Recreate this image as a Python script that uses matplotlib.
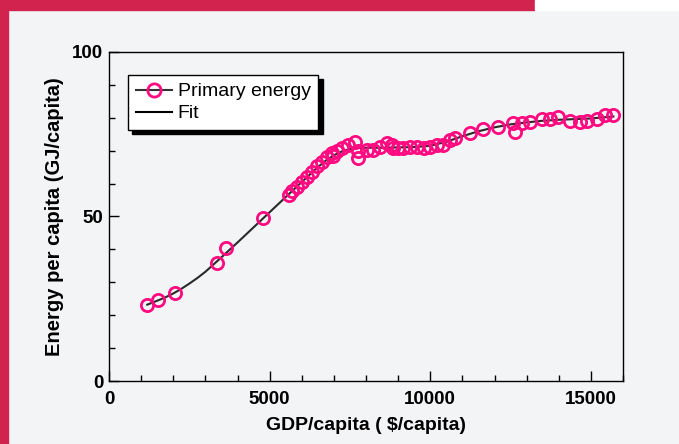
import numpy as np
import matplotlib
matplotlib.use("Agg")
import matplotlib.pyplot as plt
from matplotlib.lines import Line2D
from matplotlib.patches import Rectangle
from matplotlib.ticker import MultipleLocator

plt.rcParams['font.family'] = ['Liberation Sans', 'DejaVu Sans']

# GDP per capita ($/capita) and primary energy per capita (GJ/capita)
gdp = [1190, 1520, 2060, 3370, 3640, 4790, 5590, 5690, 5840, 6000, 6150, 6310,
       6470, 6620, 6780, 6930, 6980, 7090, 7240, 7450, 7660, 7760, 7760, 8020,
       8230, 8440, 8640, 8800, 8850, 9010, 9160, 9370, 9580, 9790, 9990, 10200,
       10410, 10620, 10770, 11240, 11650, 12120, 12590, 12640, 12850, 13110,
       13470, 13730, 13990, 14350, 14660, 14870, 15180, 15440, 15700]
energy = [23.0, 24.6, 26.7, 36.0, 40.3, 49.6, 56.6, 57.8, 59.1, 60.6, 62.1, 63.6,
          65.3, 66.7, 68.0, 69.2, 68.3, 70.0, 70.7, 71.7, 72.7, 70.0, 67.7, 70.2,
          70.2, 71.2, 72.2, 71.7, 70.7, 70.7, 70.7, 71.2, 71.2, 70.7, 71.2, 71.7,
          71.7, 73.3, 73.8, 75.3, 76.6, 77.3, 78.5, 75.8, 78.3, 78.8,
          79.6, 79.6, 80.1, 79.1, 78.8, 79.1, 79.6, 80.9, 80.9]

# fitted curve
fit_gdp = [1190, 1500, 1750, 2000, 2250, 2500, 2750, 3000, 3500, 4000, 4500,
           5000, 5500, 6000, 6500, 6750, 7000, 7250, 7500, 7750, 8000, 8500,
           9000, 9500, 10000, 10500, 11000, 11500, 12000, 12500, 13000, 13500,
           14000, 14500, 15000, 15700]
fit_energy = [23.2, 24.4, 25.4, 26.6, 28.0, 29.6, 31.3, 33.2, 37.6, 42.1, 46.7,
              51.3, 55.9, 60.5, 65.0, 67.0, 68.6, 69.8, 70.5, 70.8, 70.9, 70.9,
              71.0, 71.1, 71.5, 72.7, 74.4, 75.9, 77.1, 78.0, 78.6, 79.1,
              79.4, 79.6, 79.8, 80.4]

pink = '#ff0a80'
crimson = '#d2234f'
bg = '#f3f4f6'

fig = plt.figure(figsize=(6.79, 4.44), dpi=100)
fig.patch.set_facecolor(bg)
# decorative frame strips
fig.patches.append(Rectangle((0, 1 - 10 / 444), 535 / 679, 10 / 444,
                             transform=fig.transFigure, color=crimson, zorder=0))
fig.patches.append(Rectangle((535 / 679, 1 - 10 / 444), 1 - 535 / 679, 10 / 444,
                             transform=fig.transFigure, color='white', zorder=0))
fig.patches.append(Rectangle((0, 0), 8 / 679, 1, transform=fig.transFigure,
                             color=crimson, zorder=0))

ax = fig.add_axes([109 / 679, 1 - 381 / 444, 514 / 679, 329 / 444])
ax.set_facecolor(bg)

ax.plot(fit_gdp, fit_energy, color='#2a2a2a', lw=1.5, zorder=2)
ax.plot(gdp, energy, linestyle='none', marker='o', ms=8.8, mfc='none',
        mec=pink, mew=2.0, zorder=3)

ax.set_xlim(0, 16000)
ax.set_ylim(0, 100)
ax.xaxis.set_major_locator(MultipleLocator(5000))
ax.xaxis.set_minor_locator(MultipleLocator(1000))
ax.yaxis.set_major_locator(MultipleLocator(50))
ax.yaxis.set_minor_locator(MultipleLocator(10))
ax.tick_params(which='both', direction='in', top=False, right=False,
               labelsize=13.5, width=1)
ax.tick_params(which='major', length=7)
ax.tick_params(axis='x', which='major', pad=7)
ax.tick_params(axis='y', which='major', pad=4)
ax.tick_params(which='minor', length=4)
for lab in ax.get_xticklabels() + ax.get_yticklabels():
    lab.set_fontweight('bold')
for s in ax.spines.values():
    s.set_linewidth(1.0)

ax.set_xlabel('GDP/capita ( $/capita)', fontsize=14, fontweight='bold', labelpad=7)
ax.set_ylabel('Energy per capita (GJ/capita)', fontsize=14.5, fontweight='bold', labelpad=6)

handles = [Line2D([], [], color='#333333', lw=1.5, marker='o', ms=9.5,
                  mfc='none', mec=pink, mew=2.0),
           Line2D([], [], color='black', lw=1.5)]
leg = ax.legend(handles, ['Primary energy', 'Fit'], loc='upper left',
                bbox_to_anchor=(0.037, 0.93), fontsize=14, frameon=True,
                fancybox=False, framealpha=1, edgecolor='black',
                shadow={'color': 'black', 'alpha': 1, 'ox': 3, 'oy': -3},
                handlelength=1.85, handletextpad=0.3, borderpad=0.4,
                labelspacing=0.22, borderaxespad=0)
leg.get_frame().set_linewidth(1.0)

fig.savefig('out.png', dpi=100, facecolor=bg)
